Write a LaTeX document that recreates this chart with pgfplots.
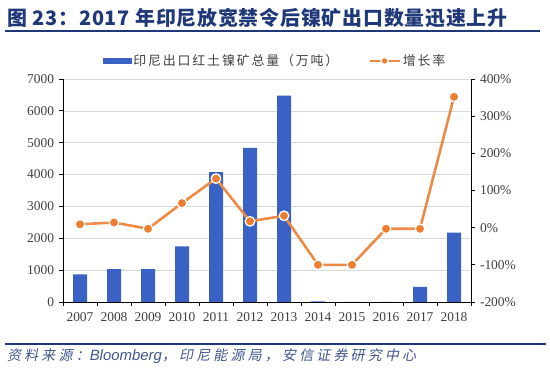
\documentclass[border=0pt]{standalone}
\usepackage{fontspec}
\setmainfont{Liberation Serif}
\newfontfamily\cjk{Noto Sans CJK SC}
\newfontfamily\cjktitle[LetterSpace=4]{Noto Sans CJK SC}
\newfontfamily\cjkleg[LetterSpace=14]{Noto Sans CJK SC}
\newfontfamily\cjkit[FakeSlant=0.2, LetterSpace=23]{Noto Sans CJK SC}
\newfontfamily\lsans{Liberation Sans}
\usepackage{pgfplots}
\pgfplotsset{compat=1.18}
\definecolor{navy}{RGB}{31,56,120}
\definecolor{barblue}{RGB}{58,98,196}
\definecolor{orangeline}{RGB}{237,125,49}
\definecolor{txtgray}{RGB}{64,64,64}
\pgfplotsset{
  lineleg/.style={legend image code/.code={\draw[mark repeat=2,mark phase=2,##1, line width=2.5bp, mark size=3.5bp] plot coordinates {(0bp,0bp) (15bp,0bp) (30bp,0bp)};}},
  barleg/.style={legend image code/.code={\fill[barblue] (0bp,-2.5bp) rectangle (28bp,2.5bp);}},
}
\begin{document}
\begin{tikzpicture}
\useasboundingbox (0,0) rectangle (550bp,374bp);
\node[anchor=west, inner sep=0pt, text=navy] at (7bp,356bp)
  {\cjktitle\bfseries\fontsize{20}{22}\selectfont 图 23：2017 年印尼放宽禁令后镍矿出口数量迅速上升};
\draw[navy, line width=1.5bp] (5bp,343bp) -- (540bp,343bp);
\draw[navy, line width=2bp] (5bp,30bp) -- (546bp,30bp);
\node[anchor=west, inner sep=0pt, text=navy!85] at (7bp,18bp)
  {\cjkit\fontsize{14}{15}\selectfont 资料来源：{\lsans\itshape\fontsize{15}{15}\selectfont Bloomberg}，印尼能源局，安信证券研究中心};
\begin{axis}[
  at={(63bp,72bp)}, anchor=south west, scale only axis,
  width=408bp, height=223bp,
  xmin=-0.5, xmax=11.5, ymin=0, ymax=7000,
  axis x line*=bottom, axis y line*=left,
  xtick={0,...,11},
  xticklabels={2007,2008,2009,2010,2011,2012,2013,2014,2015,2016,2017,2018},
  major x tick style={draw=none},
  minor xtick={-0.5,0.5,...,11.5},
  ytick={0,1000,...,7000},
  yticklabels={0,1000,2000,3000,4000,5000,6000,7000},
  ymajorgrids, grid style={draw=black!15, line width=0.6bp},
  tick align=outside, major tick length=3.5bp, minor tick length=4bp,
  tick style={black, line width=0.8bp},
  axis line style={black, line width=0.8bp},
  ticklabel style={font=\fontsize{13.5}{15}\selectfont, text=txtgray},
  xticklabel style={yshift=-4bp},
  yticklabel style={xshift=-2bp},
]
\addplot[ybar, bar width=14bp, draw=none, fill=barblue]
coordinates {(0,870) (1,1030) (2,1030) (3,1745) (4,4080) (5,4840) (6,6480) (7,20) (8,0) (9,0) (10,473) (11,2177)};
\end{axis}
\begin{axis}[
  at={(63bp,72bp)}, anchor=south west, scale only axis,
  width=408bp, height=223bp,
  xmin=-0.5, xmax=11.5, ymin=-200, ymax=400,
  axis x line=none, axis y line*=right,
  ytick={-200,-100,...,400},
  yticklabels={-200\%,-100\%,0\%,100\%,200\%,300\%,400\%},
  tick align=outside, major tick length=3.5bp,
  tick style={black, line width=0.8bp},
  axis line style={black, line width=0.8bp},
  ticklabel style={font=\fontsize{13.5}{15}\selectfont, text=txtgray},
  yticklabel style={xshift=2bp},
  clip=false,
  legend style={draw=none, fill=none, at={(0.52,1.081)}, anchor=center,
    font=\cjkleg\fontsize{13}{14}\selectfont, text=txtgray,
    /tikz/every even column/.append style={column sep=28bp}},
  legend columns=2,
]
\addlegendimage{barleg}
\addlegendentry{印尼出口红土镍矿总量（万吨）}
\addplot[orangeline!90, line width=2.6bp, mark=*, mark size=4.8bp,
  mark options={fill=orangeline, draw=white, line width=1.3bp}, lineleg]
coordinates {(0,9) (1,14) (2,-3) (3,66) (4,132) (5,17) (6,32) (7,-100) (8,-100) (9,-3) (10,-3) (11,352)};
\addlegendentry{增长率}
\end{axis}
\end{tikzpicture}
\end{document}
